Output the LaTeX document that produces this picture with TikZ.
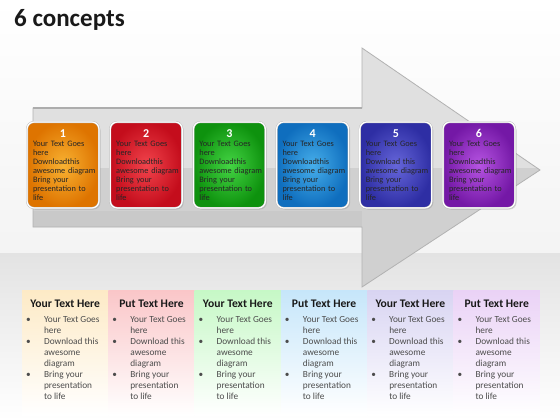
\documentclass[tikz,border=0pt]{standalone}
\usepackage{fontspec}
\setmainfont{Carlito}
\usetikzlibrary{positioning}
\usetikzlibrary{shadows}
\definecolor{or1}{HTML}{F8B232}\definecolor{or2}{HTML}{DE7400}
\definecolor{rd1}{HTML}{F2444C}\definecolor{rd2}{HTML}{C40D1C}
\definecolor{gr1}{HTML}{44D444}\definecolor{gr2}{HTML}{0E920E}
\definecolor{bl1}{HTML}{46AEEA}\definecolor{bl2}{HTML}{0F6EBE}
\definecolor{in1}{HTML}{6666DA}\definecolor{in2}{HTML}{2E2EA4}
\definecolor{pu1}{HTML}{B654E2}\definecolor{pu2}{HTML}{7418A6}
\definecolor{pan1}{HTML}{FDEAC6}\definecolor{pan2}{HTML}{FAC6C8}
\definecolor{pan3}{HTML}{C6F8C6}\definecolor{pan4}{HTML}{C6E6FA}
\definecolor{pan5}{HTML}{D8D4F2}\definecolor{pan6}{HTML}{EAD2F6}
\tikzset{
	colbox/.style={draw=gray!55, double=white, double distance=1.2pt, rounded corners=7pt, minimum width=72pt, minimum height=86pt, text width=60pt, inner xsep=6pt, align=left, font=\fontsize{8.3}{9}\selectfont, text=black!85, drop shadow={opacity=0.3, shadow xshift=1.5pt, shadow yshift=-1.5pt}},
	panel/.style={rectangle, minimum width=86.3pt, minimum height=125pt, inner sep=0pt, bottom color=white},
	% heading and bullets inside the panels
	head/.style={anchor=north, yshift=-7pt, font=\fontsize{11.6}{13}\selectfont\bfseries, text=black!90},
	blist/.style={anchor=north west, xshift=4pt, yshift=-25pt, inner sep=0pt, font=\fontsize{9.3}{11}\selectfont, text=black!70},
}
\newcommand{\boxnum}[1]{{\centering\fontsize{12}{12}\selectfont\bfseries\color{white}#1\par}}
\newcommand{\boxtext}[1]{\mbox{Your Text Goes}\\here\\\mbox{#1}\\\mbox{awesome diagram}\\\mbox{Bring your}\\\mbox{presentation to}\\life}
\newcommand{\bitems}{\begin{tabular}{@{}p{18pt}@{}l@{}}\textbullet & Your Text Goes\\ & here\\ \textbullet & Download this\\ & awesome\\ & diagram\\ \textbullet & Bring your\\ & presentation\\ & to life\end{tabular}}

\begin{document}
\begin{tikzpicture}[x=1pt, y=-1pt, node distance=83.2pt]
	\useasboundingbox (0,0) rectangle (560,420);
	\fill[top color=white, bottom color=gray!9] (0,0) rectangle (560,253);
	\fill[top color=gray!22, bottom color=white] (0,253) rectangle (560,420);
	
	\node (title) [anchor=base west, inner sep=0pt, font=\fontsize{25}{28}\selectfont\bfseries, text=black!90] at (14,27) {6 concepts};
	
	% big arrow behind the boxes
	\fill[gray!24] (33,108) -- (362,108) -- (362,48) -- (540,170) -- (362,287) -- (362,227) -- (33,227) -- cycle;
	\begin{scope}
		\clip (0,168) rectangle (560,300);
		\fill[gray!37] (33,108) -- (362,108) -- (362,48) -- (540,170) -- (362,287) -- (362,227) -- (33,227) -- cycle;
	\end{scope}
	\fill[gray!42] (33,211) rectangle (362,227);
	\draw[gray!60, line width=0.8pt] (33,108) -- (362,108) -- (362,48) -- (540,170) -- (362,287) -- (362,227) -- (33,227) -- cycle;
	\draw[gray!65, line width=1.4pt] (33,108) -- (362,108);
	
	\node (c1) [colbox, inner color=or1, outer color=or2] at (63,165) {\boxnum{1}\boxtext{Downloadthis}};
	\node (c2) [colbox, inner color=rd1, outer color=rd2, right of=c1] {\boxnum{2}\boxtext{Downloadthis}};
	\node (c3) [colbox, inner color=gr1, outer color=gr2, right of=c2] {\boxnum{3}\boxtext{Downloadthis}};
	\node (c4) [colbox, inner color=bl1, outer color=bl2, right of=c3] {\boxnum{4}\boxtext{Downloadthis}};
	\node (c5) [colbox, inner color=in1, outer color=in2, right of=c4] {\boxnum{5}\boxtext{Download this}};
	\node (c6) [colbox, inner color=pu1, outer color=pu2, right of=c5] {\boxnum{6}\boxtext{Downloadthis}};
	
	\node (p1) [panel, top color=pan1] at (65.2,352.5) {};
	\node (p2) [panel, top color=pan2, right of=p1, xshift=3.1pt] {};
	\node (p3) [panel, top color=pan3, right of=p2, xshift=3.1pt] {};
	\node (p4) [panel, top color=pan4, right of=p3, xshift=3.1pt] {};
	\node (p5) [panel, top color=pan5, right of=p4, xshift=3.1pt] {};
	\node (p6) [panel, top color=pan6, right of=p5, xshift=3.1pt] {};
	
	\node (h1) [head] at (p1.north) {Your Text Here};
	\node (h2) [head] at (p2.north) {Put Text Here};
	\node (h3) [head] at (p3.north) {Your Text Here};
	\node (h4) [head] at (p4.north) {Put Text Here};
	\node (h5) [head] at (p5.north) {Your Text Here};
	\node (h6) [head] at (p6.north) {Put Text Here};
	
	\node (l1) [blist] at (p1.north west) {\bitems};
	\node (l2) [blist] at (p2.north west) {\bitems};
	\node (l3) [blist] at (p3.north west) {\bitems};
	\node (l4) [blist] at (p4.north west) {\bitems};
	\node (l5) [blist] at (p5.north west) {\bitems};
	\node (l6) [blist] at (p6.north west) {\bitems};
	
\end{tikzpicture}
\end{document}
